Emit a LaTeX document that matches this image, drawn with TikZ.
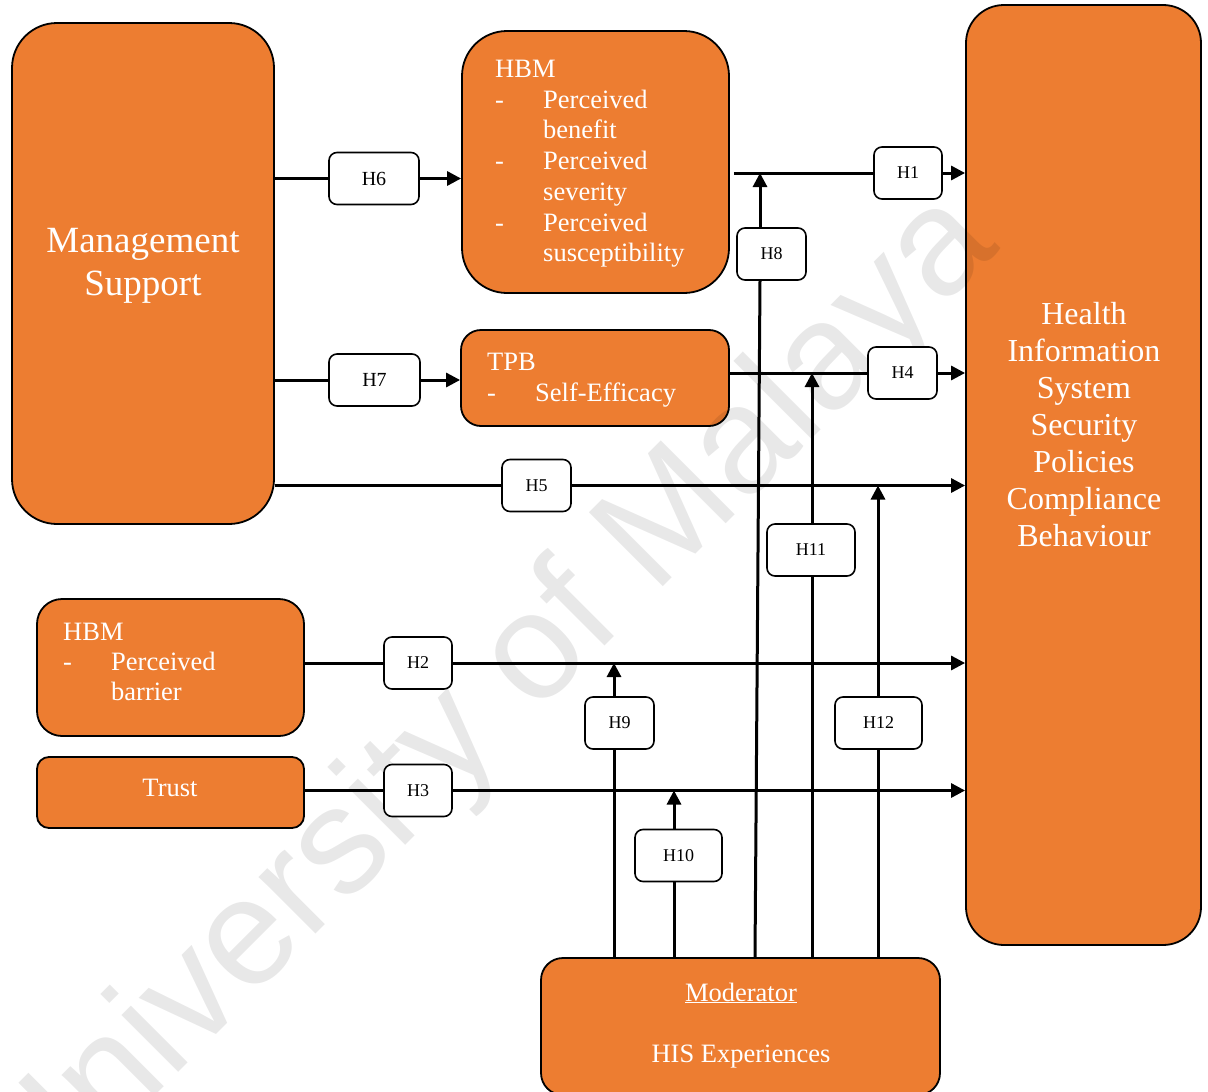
\documentclass[tikz,border=0pt]{standalone}
\usepackage{fontspec}
\setmainfont{Liberation Serif}
\newfontfamily\wmfont{Liberation Sans}
\usetikzlibrary{arrows.meta}
\definecolor{boxorange}{HTML}{ED7D31}

% list helpers: dash in a 48pt column, continuation lines indented
\newcommand\lstdash[1]{\makebox[48pt][l]{-}#1}
\newcommand\lstcont[1]{\hspace*{48pt}#1}

\tikzset{
  obox/.style={draw=black, line width=1.8pt, fill=boxorange, inner sep=0pt},
  hbox/.style={draw=black, line width=1.6pt, fill=white, rounded corners=8pt,
    inner sep=0pt, minimum height=52pt, font=\fontsize{18}{20}\selectfont},
  wtext/.style={text=white, inner sep=0pt},
  conn/.style={line width=3pt},
  arr/.style={line width=3pt, -{Triangle[length=14pt,width=14pt]}},
}

\begin{document}
\begin{tikzpicture}[x=1pt,y=-1pt]
\useasboundingbox (0,0) rectangle (1208,1092);
\begin{scope}
\clip (0,0) rectangle (1208,1092);

% ---- constructs ----
\node[obox, rounded corners=45pt, minimum width=262pt, minimum height=501pt] (ms) at (143,273.5) {};
\node[wtext, anchor=north, align=center, font=\fontsize{37}{43}\selectfont] (mstxt) at (143,228) {Management\\Support};

\node[obox, rounded corners=45pt, minimum width=267pt, minimum height=262pt] (hbm1) at (595.5,162) {};
\node[wtext, anchor=north west, align=left, font=\fontsize{26.5}{30.7}\selectfont] (hbm1txt) at (495,60)
  {HBM\\\lstdash{Perceived}\\\lstcont{benefit}\\\lstdash{Perceived}\\\lstcont{severity}\\\lstdash{Perceived}\\\lstcont{susceptibility}};

\node[obox, rounded corners=20pt, minimum width=268pt, minimum height=96pt] (tpb) at (595,378) {};
\node[wtext, anchor=north west, align=left, font=\fontsize{26.5}{31}\selectfont] (tpbtxt) at (487,352.5)
  {TPB\\\lstdash{Self-Efficacy}};

\node[obox, rounded corners=25pt, minimum width=267pt, minimum height=137pt] (hbm2) at (170.5,667.5) {};
\node[wtext, anchor=north west, align=left, font=\fontsize{26.5}{30}\selectfont] (hbm2txt) at (63,622.5)
  {HBM\\\lstdash{Perceived}\\\lstcont{barrier}};

\node[obox, rounded corners=12pt, minimum width=267pt, minimum height=71pt] (trust) at (170.5,792.5) {};
\node[wtext, anchor=base, font=\fontsize{26.5}{30}\selectfont] (trusttxt) at (170,796) {Trust};

\node[obox, rounded corners=22pt, minimum width=399pt, minimum height=137pt] (mod) at (740.5,1026.5) {};
\node[wtext, anchor=base, font=\fontsize{26.5}{30}\selectfont] (modtxt) at (741,1001) {\underline{Moderator}};
\node[wtext, anchor=base, font=\fontsize{26.5}{30}\selectfont] (histxt) at (741,1062) {HIS Experiences};

\node[obox, rounded corners=38pt, minimum width=235pt, minimum height=940pt] (hcb) at (1083.5,475) {};
\node[wtext, anchor=north, align=center, font=\fontsize{32}{37}\selectfont] (hcbtxt) at (1084,302)
  {Health\\Information\\System\\Security\\Policies\\Compliance\\Behaviour};

% ---- watermark ----
\node[text=black, text opacity=0.09, rotate=45, inner sep=0pt, font=\wmfont\fontsize{152}{152}\selectfont] (wm) at (490,705) {University of Malaya};

% ---- hypothesis labels ----
\node[hbox, minimum width=90pt, font=\fontsize{20}{22}\selectfont] (h6) at (374,178.5) {H6};
\node[hbox, minimum width=91pt, font=\fontsize{20}{22}\selectfont] (h7) at (374.5,380) {H7};
\node[hbox, minimum width=68pt] (h1) at (908,173) {H1};
\node[hbox, minimum width=69pt] (h8) at (771.5,254) {H8};
\node[hbox, minimum width=69pt] (h4) at (902.5,373) {H4};
\node[hbox, minimum width=69pt] (h5) at (536.5,485.5) {H5};
\node[hbox, minimum width=88pt] (h11) at (811,550) {H11};
\node[hbox, minimum width=68pt] (h2) at (418,663) {H2};
\node[hbox, minimum width=69pt] (h9) at (619.5,723) {H9};
\node[hbox, minimum width=87pt] (h12) at (878.5,723) {H12};
\node[hbox, minimum width=68pt] (h3) at (418,790.5) {H3};
\node[hbox, minimum width=87pt] (h10) at (678.5,855.5) {H10};

% ---- direct paths ----
\draw[conn] (ms.east |- h6) -- (h6.west);
\draw[arr] (h6.east) -- (hbm1.west |- h6);
\draw[conn] (ms.east |- h7) -- (h7.west);
\draw[arr] (h7.east) -- (tpb.west |- h7);
\draw[conn] (ms.east |- h5) -- (h5.west);
\draw[arr] (h5.east) -- (hcb.west |- h5);

\coordinate (hbm1out) at ([xshift=4pt]hbm1.east);
\draw[conn] (hbm1out |- h1) -- (h1.west);
\draw[arr] (h1.east) -- (hcb.west |- h1);
\draw[conn] (tpb.east |- h4) -- (h4.west);
\draw[arr] (h4.east) -- (hcb.west |- h4);
\draw[conn] (hbm2.east |- h2) -- (h2.west);
\draw[arr] (h2.east) -- (hcb.west |- h2);
\draw[conn] (trust.east |- h3) -- (h3.west);
\draw[arr] (h3.east) -- (hcb.west |- h3);

% ---- moderating paths ----
\coordinate (x9) at (614,0);
\coordinate (x10) at (674,0);
\coordinate (x8b) at (755,0);
\coordinate (x8t) at (760,0);
\coordinate (x11) at (812,0);
\coordinate (x12) at (878,0);

\draw[conn] (x9 |- mod.north) -- (x9 |- h9.south);
\draw[arr] (x9 |- h9.north) -- (x9 |- h2);
\draw[conn] (x10 |- mod.north) -- (x10 |- h10.south);
\draw[arr] (x10 |- h10.north) -- (x10 |- h3);
\draw[conn] (x8b |- mod.north) -- (x8t |- h8.south);
\draw[arr] (x8t |- h8.north) -- (x8t |- h1);
\draw[conn] (x11 |- mod.north) -- (x11 |- h11.south);
\draw[arr] (x11 |- h11.north) -- (x11 |- h4);
\draw[conn] (x12 |- mod.north) -- (x12 |- h12.south);
\draw[arr] (x12 |- h12.north) -- (x12 |- h5);
\end{scope}
\end{tikzpicture}
\end{document}
